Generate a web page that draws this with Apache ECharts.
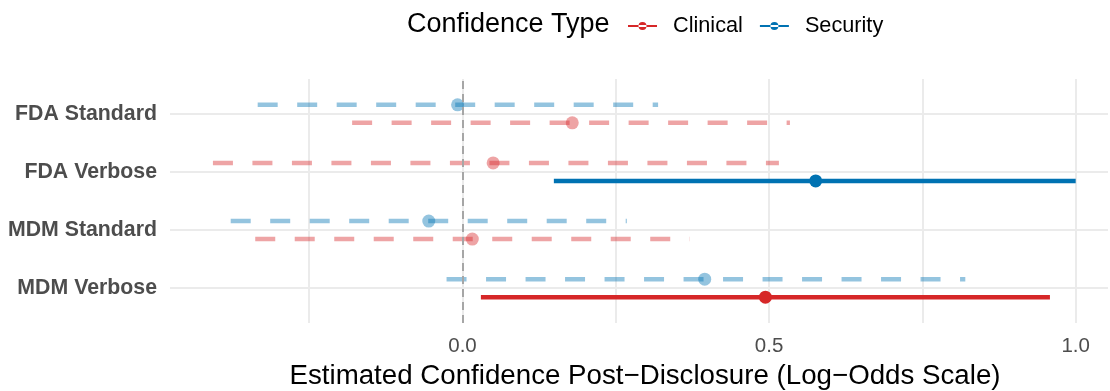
<!DOCTYPE html>
<html>
<head>
<meta charset="utf-8">
<script src="https://cdn.jsdelivr.net/npm/echarts@6/dist/echarts.min.js"></script>
<style>html,body{margin:0;padding:0;background:#fff;}#c{width:1110px;height:391px;}</style>
</head>
<body>
<div id="c"></div>
<script>
// ---- data ----
const categories = ['FDA Standard', 'FDA Verbose', 'MDM Standard', 'MDM Verbose'];
const clinicalEst  = [0.179, 0.050, 0.016, 0.494];
const clinicalLow  = [-0.180, -0.407, -0.338, 0.030];
const clinicalHigh = [0.534, 0.516, 0.371, 0.958];
const securityEst  = [-0.008, 0.576, -0.055, 0.395];
const securityLow  = [-0.334, 0.149, -0.378, -0.026];
const securityHigh = [0.319, 1.000, 0.268, 0.820];
const xTickValues  = [-0.25, 0, 0.25, 0.5, 0.75, 1.0];
const xLabelValues = [0, 0.5, 1.0];

const FONT = '"Liberation Sans", Arial, Helvetica, sans-serif';
const RED = '#D62728', BLUE = '#0072B2';
const DODGE = 0.155;
const n = categories.length;
const catPos = categories.map((c, i) => n - i);

function build(est, low, high, other) {
  return categories.map((c, i) => {
    const off = est[i] <= other[i] ? DODGE : -DODGE;
    return [low[i], high[i], est[i], catPos[i] + off];
  });
}
const clinicalData = build(clinicalEst, clinicalLow, clinicalHigh, securityEst);
const securityData = build(securityEst, securityLow, securityHigh, clinicalEst);

function makeRender(color) {
  return function (params, api) {
    const lo = api.value(0), hi = api.value(1), est = api.value(2), yv = api.value(3);
    const p1 = api.coord([lo, yv]), p2 = api.coord([hi, yv]), pc = api.coord([est, yv]);
    const sig = lo > 0 || hi < 0;
    const op = sig ? 1 : 0.42;
    return {
      type: 'group',
      children: [
        { type: 'line', shape: { x1: p1[0], y1: p1[1], x2: p2[0], y2: p2[1] },
          style: { stroke: color, lineWidth: 4.5, lineDash: sig ? null : [20, 19.5], opacity: op, lineCap: 'butt' } },
        { type: 'circle', shape: { cx: pc[0], cy: pc[1], r: 6.5 },
          style: { fill: color, opacity: op } }
      ]
    };
  };
}

const legendIcon = 'path://M0,3h29v2h-29z M14.5,0a4,4 0 1,0 0.001,0z';

const chart = echarts.init(document.getElementById('c'), null, { renderer: 'canvas' });
chart.setOption({
  animation: false,
  backgroundColor: '#fff',
  textStyle: { fontFamily: FONT },
  title: {
    text: 'Confidence Type', left: 402, top: 6,
    textStyle: { fontSize: 27, fontWeight: 'normal', color: '#000', fontFamily: FONT }
  },
  legend: {
    left: 623, top: 10, itemWidth: 29, itemHeight: 8, itemGap: 17,
    selectedMode: false,
    data: [{ name: 'Clinical', icon: legendIcon }, { name: 'Security', icon: legendIcon }],
    textStyle: { fontSize: 21.7, color: '#000', fontFamily: FONT, padding: [0, 0, 0, 11] }
  },
  grid: { left: 170, top: 79, width: 938, height: 244, containLabel: false, outerBoundsMode: 'none' },
  xAxis: {
    type: 'value', min: -0.477, max: 1.0527,
    name: 'Estimated Confidence Post\u2212Disclosure (Log\u2212Odds Scale)',
    nameLocation: 'middle', nameGap: 39,
    nameTextStyle: { fontSize: 27.7, color: '#000', fontFamily: FONT, padding: [0, 0, 0, 12] },
    axisLine: { show: false },
    axisTick: { show: false, customValues: xTickValues },
    axisLabel: { customValues: xLabelValues, fontSize: 20.5, color: '#4D4D4D', margin: 13, fontFamily: FONT,
      formatter: v => v.toFixed(1) },
    splitLine: { show: true, lineStyle: { color: '#EBEBEB', width: 2 } }
  },
  yAxis: {
    type: 'value', min: 0.4, max: 4.6,
    axisLine: { show: false },
    axisTick: { show: false, customValues: catPos },
    axisLabel: { customValues: catPos, fontSize: 21.3, fontWeight: 'bold', color: '#4D4D4D', margin: 13, fontFamily: FONT,
      padding: [9, 0, 0, 0],
      formatter: v => categories[n - Math.round(v)] || '' },
    splitLine: { show: true, lineStyle: { color: '#EBEBEB', width: 2 } }
  },
  series: [
    { type: 'line', name: 'zero', data: [], z: 1, silent: true,
      markLine: { silent: true, symbol: 'none', label: { show: false },
        lineStyle: { color: '#A6A6A6', width: 2, type: [8, 5] },
        data: [{ xAxis: 0 }] } },
    { type: 'custom', name: 'Clinical', z: 3, itemStyle: { color: RED }, clip: false,
      renderItem: makeRender(RED), encode: { x: [0, 1, 2], y: 3 }, data: clinicalData },
    { type: 'custom', name: 'Security', z: 3, itemStyle: { color: BLUE }, clip: false,
      renderItem: makeRender(BLUE), encode: { x: [0, 1, 2], y: 3 }, data: securityData }
  ]
});
</script>
</body>
</html>
